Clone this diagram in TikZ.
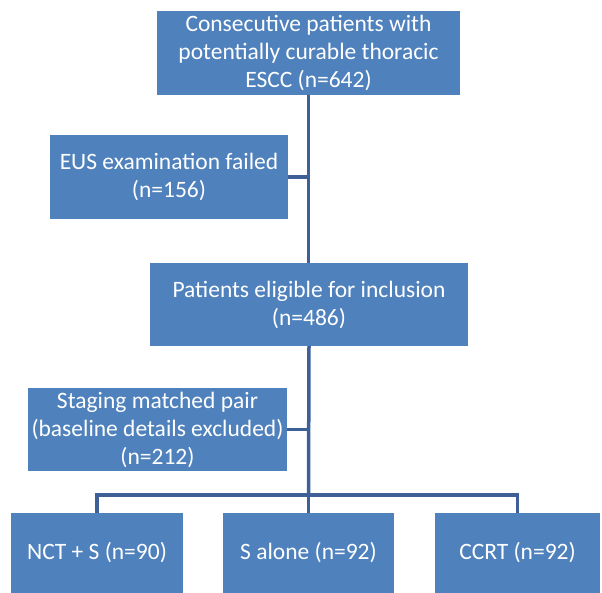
\documentclass[tikz,border=0pt]{standalone}
\usepackage{fontspec}
\setmainfont{Carlito}
\usepackage{tikz}

\definecolor{boxblue}{RGB}{79,129,189}
\definecolor{lineblue}{RGB}{62,96,150}

\tikzset{
    flowbox/.style={rectangle, fill=boxblue, text=white, align=center, inner sep=2pt, font=\fontsize{23.5}{28}\selectfont},
    link/.style={draw=lineblue, line width=3.5pt},
}

\begin{document}
\begin{tikzpicture}[x=1pt, y=-1pt]
    \useasboundingbox (0, 0) rectangle (602, 593);

    \node (top) [flowbox, minimum width=303pt, minimum height=84pt, at={(308.5, 53)}] {Consecutive patients with\\potentially curable thoracic\\ESCC (n=642)};
    \node (eus) [flowbox, minimum width=238pt, minimum height=84pt, at={(169, 177)}] {EUS examination failed\\(n=156)};
    \node (elig) [flowbox, minimum width=318pt, minimum height=83pt, at={(309, 304.5)}] {Patients eligible for inclusion\\(n=486)};
    \node (stage) [flowbox, minimum width=259pt, minimum height=83pt, at={(157.5, 429.5)}] {Staging matched pair\\(baseline details excluded)\\(n=212)};
    \node (nct) [flowbox, minimum width=172pt, minimum height=80pt, at={(97, 553)}] {NCT + S (n=90)};
    \node (salone) [flowbox, minimum width=171pt, minimum height=80pt, at={(308.5, 553)}] {S alone (n=92)};
    \node (ccrt) [flowbox, minimum width=165pt, minimum height=80pt, at={(517.5, 553)}] {CCRT (n=92)};
    \coordinate (split) at (308.5, 495);

    \draw [link] (top.south) -- (top.south |- elig.north);
    \draw [link] (eus.east) -- (eus.east -| top.south);
    \draw [link] (elig.south) -- (split);
    \draw [link] (stage.east) -- (stage.east -| elig.south);
    \draw [link] (nct.north) |- (split) -| (ccrt.north);
    \draw [link] (split) -- (salone.north);
\end{tikzpicture}
\end{document}
